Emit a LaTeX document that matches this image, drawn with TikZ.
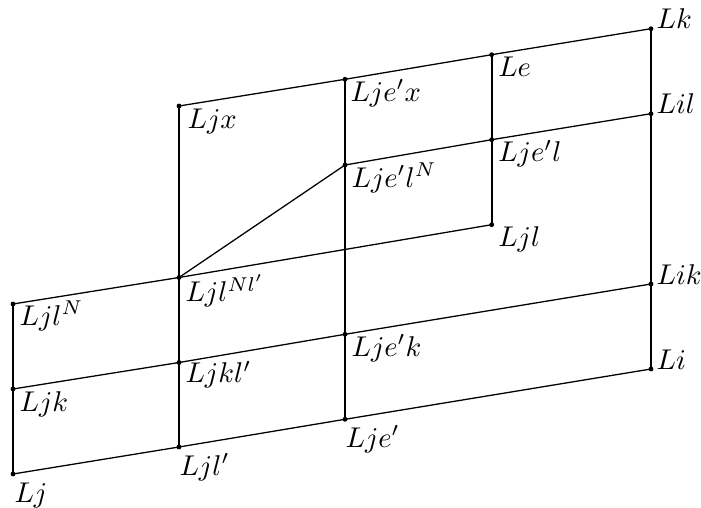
\documentclass[tikz,border=0pt]{standalone}
\begin{document}
\begin{tikzpicture}[x=0.35pt,y=-0.35pt,
  dot/.style={circle,fill,inner sep=0pt,minimum size=1.7pt},
  vline/.style={line width=0.8pt},
  sline/.style={line width=0.45pt},
  lab/.style={anchor=base west,inner sep=0pt,font=\fontsize{10.4}{12}\selectfont}]
\useasboundingbox (0,0) rectangle (701,508);
% points
\node[dot] (Lj) at (13,474) {};
\node[dot] (Ljk) at (13,389) {};
\node[dot] (LjlN) at (13,304) {};
\node[dot] (Ljlp) at (179,447) {};
\node[dot] (Ljklp) at (179,362.5) {};
\node[dot] (LjlNl) at (179,277.5) {};
\node[dot] (Ljx) at (179,106) {};
\node[dot] (Ljep) at (345,419.3) {};
\node[dot] (Ljepk) at (345,334.3) {};
\node[dot] (LjeplN) at (345,165) {};
\node[dot] (Ljepx) at (345,79.3) {};
\node[dot] (Ljl) at (491.7,224.7) {};
\node[dot] (Ljepl) at (491.7,139.7) {};
\node[dot] (Le) at (491.7,54.7) {};
\node[dot] (Li) at (651,369) {};
\node[dot] (Lik) at (651,284) {};
\node[dot] (Lil) at (651,113.7) {};
\node[dot] (Lk) at (651,28.7) {};
% slanted lines
\draw[sline] (Lj.center) -- (Ljlp.center) -- (Ljep.center) -- (Li.center);
\draw[sline] (Ljk.center) -- (Ljklp.center) -- (Ljepk.center) -- (Lik.center);
\draw[sline] (LjlN.center) -- (LjlNl.center) -- (Ljl.center);
\draw[sline] (LjeplN.center) -- (Ljepl.center) -- (Lil.center);
\draw[sline] (Ljx.center) -- (Ljepx.center) -- (Le.center) -- (Lk.center);
\draw[sline] (LjlNl.center) -- (LjeplN.center);
% vertical lines
\draw[vline] (Lj.center) -- (Ljk.center) -- (LjlN.center);
\draw[vline] (Ljlp.center) -- (Ljklp.center) -- (LjlNl.center) -- (Ljx.center);
\draw[vline] (Ljep.center) -- (Ljepk.center) -- (LjeplN.center) -- (Ljepx.center);
\draw[vline] (Ljl.center) -- (Ljepl.center) -- (Le.center);
\draw[vline] (Li.center) -- (Lik.center) -- (Lil.center) -- (Lk.center);
% labels
\node[lab] (tLj) at ([shift={(1,28)}]Lj.center) {$Lj$};
\node[lab] (tLjk) at ([shift={(6,22)}]Ljk.center) {$Ljk$};
\node[lab] (tLjlN) at ([shift={(6,21)}]LjlN.center) {$Ljl^N$};
\node[lab] (tLjlp) at ([shift={(0,28)}]Ljlp.center) {$Ljl'$};
\node[lab] (tLjklp) at ([shift={(6,20)}]Ljklp.center) {$Ljkl'$};
\node[lab] (tLjlNl) at ([shift={(6,24)}]LjlNl.center) {$Ljl^{Nl'}$};
\node[lab] (tLjx) at ([shift={(8,22)}]Ljx.center) {$Ljx$};
\node[lab] (tLjep) at ([shift={(0,28)}]Ljep.center) {$Lje'$};
\node[lab] (tLjepk) at ([shift={(6,22)}]Ljepk.center) {$Lje'k$};
\node[lab] (tLjeplN) at ([shift={(6,22)}]LjeplN.center) {$Lje'l^N$};
\node[lab] (tLjepx) at ([shift={(5,22)}]Ljepx.center) {$Lje'x$};
\node[lab] (tLjl) at ([shift={(6,22)}]Ljl.center) {$Ljl$};
\node[lab] (tLjepl) at ([shift={(6,22)}]Ljepl.center) {$Lje'l$};
\node[lab] (tLe) at ([shift={(6,22)}]Le.center) {$Le$};
\node[lab] (tLi) at ([shift={(5,0)}]Li.center) {$Li$};
\node[lab] (tLik) at ([shift={(5,0)}]Lik.center) {$Lik$};
\node[lab] (tLil) at ([shift={(5,0)}]Lil.center) {$Lil$};
\node[lab] (tLk) at ([shift={(5,0)}]Lk.center) {$Lk$};
\end{tikzpicture}
\end{document}
